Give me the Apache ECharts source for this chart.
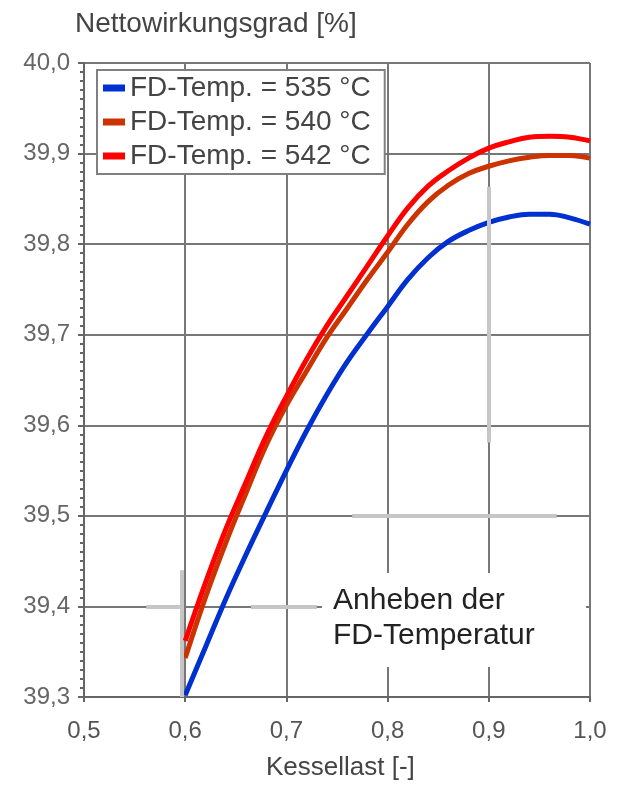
<!DOCTYPE html>
<html>
<head>
<meta charset="utf-8">
<script src="https://cdn.jsdelivr.net/npm/echarts@6/dist/echarts.min.js"></script>
<style>
html,body{margin:0;padding:0;background:#fff;}
#c{width:618px;height:787px;}
</style>
</head>
<body>
<div id="c"></div>
<script>
// Kessellast [-]
var loadX = [0.60,0.62,0.64,0.66,0.68,0.70,0.72,0.74,0.76,0.78,0.80,0.82,0.84,0.86,0.88,0.90,0.92,0.94,0.96,0.98,1.00];
// Nettowirkungsgrad [%]
var eta535 = [39.302,39.355,39.408,39.457,39.504,39.550,39.594,39.634,39.670,39.701,39.731,39.761,39.785,39.803,39.815,39.824,39.830,39.833,39.833,39.829,39.822];
var eta540 = [39.343,39.410,39.470,39.525,39.578,39.622,39.660,39.697,39.729,39.761,39.791,39.822,39.847,39.865,39.878,39.886,39.892,39.896,39.898,39.898,39.895];
var eta542 = [39.362,39.426,39.485,39.537,39.588,39.632,39.673,39.710,39.743,39.776,39.809,39.840,39.864,39.881,39.895,39.906,39.913,39.918,39.919,39.918,39.914];
var seriesNames = ['FD-Temp. = 535 °C','FD-Temp. = 540 °C','FD-Temp. = 542 °C'];
var seriesColors = ['#0030d0','#cc3300','#ff0000'];
var xTicks = [0.5,0.6,0.7,0.8,0.9,1.0];
var yTicks = [39.3,39.4,39.5,39.6,39.7,39.8,39.9,40.0];
// light grey annotation guide segments (data coordinates)
var guideSegments = [
  [[0.5615,39.4],[0.598,39.4]],
  [[0.665,39.4],[0.730,39.4]],
  [[0.765,39.5],[0.967,39.5]],
  [[0.9,39.8635],[0.9,39.581]],
  [[0.597,39.44],[0.597,39.3]]
];

function zip(xs, ys){ return xs.map(function(x,i){ return [x, ys[i]]; }); }
function comma(v){ return v.toFixed(1).replace('.', ','); }

var chart = echarts.init(document.getElementById('c'), null, {renderer:'canvas'});
var FONT = 'Liberation Sans';
var datas = [eta535, eta540, eta542];

var series = datas.map(function(d,i){
  return {
    name: seriesNames[i], type:'line', data: zip(loadX, d),
    smooth: 0.4, showSymbol:false, symbol:'none',
    lineStyle:{color:seriesColors[i], width:5}, itemStyle:{color:seriesColors[i]},
    z: 3 + i, animation:false
  };
});
series.unshift({
  name:'guides', type:'line', data:[], z:2, silent:true, animation:false,
  markLine:{
    silent:true, symbol:['none','none'], animation:false,
    label:{show:false},
    lineStyle:{color:'#c6c6c6', width:4, type:'solid'},
    data: guideSegments.map(function(s){ return [{coord:s[0]},{coord:s[1]}]; })
  }
});

chart.setOption({
  backgroundColor:'#ffffff',
  animation:false,
  textStyle:{fontFamily:FONT},
  grid:{left:84, right:28, top:63, bottom:90, containLabel:false},
  legend:{
    data: seriesNames, orient:'vertical', left:97, top:70,
    icon:'rect', itemWidth:22, itemHeight:7, itemGap:6,
    padding:[4,14,4,6],
    backgroundColor:'#ffffff', borderColor:'#808080', borderWidth:2, borderRadius:0,
    textStyle:{fontFamily:FONT, fontSize:28, color:'#444', lineHeight:28},
    selectedMode:false
  },
  xAxis:{
    type:'value', min:xTicks[0], max:xTicks[xTicks.length-1], interval:0.1,
    axisLine:{show:true, onZero:false, lineStyle:{color:'#666', width:2}},
    axisTick:{show:true, length:5, lineStyle:{color:'#666', width:2}},
    axisLabel:{fontFamily:FONT, fontSize:24, color:'#555', margin:22, formatter:function(v){return comma(v);}},
    splitLine:{show:true, lineStyle:{color:'#777', width:2}}
  },
  yAxis:{
    type:'value', min:yTicks[0], max:yTicks[yTicks.length-1], interval:0.1,
    axisLine:{show:true, onZero:false, lineStyle:{color:'#666', width:2}},
    axisTick:{show:true, length:6, lineStyle:{color:'#666', width:2}},
    minorTick:{show:true, splitNumber:10, length:4, lineStyle:{color:'#666', width:2}},
    axisLabel:{fontFamily:FONT, fontSize:24, color:'#666', margin:14, formatter:function(v){return comma(v);}},
    splitLine:{show:true, lineStyle:{color:'#777', width:2}}
  },
  graphic:[
    {type:'rect', z:1, shape:{x:322, y:573, width:264, height:94}, style:{fill:'#ffffff'}, silent:true},
    {type:'text', z:10, left:75, top:10, style:{text:'Nettowirkungsgrad [%]', font:'28px "Liberation Sans"', fill:'#444'}},
    {type:'text', z:10, left:266, top:755, style:{text:'Kessellast [-]', font:'26px "Liberation Sans"', fill:'#444'}},
    {type:'text', z:10, left:333, top:586, style:{text:'Anheben der', font:'30px "Liberation Sans"', fill:'#222'}},
    {type:'text', z:10, left:333, top:621, style:{text:'FD-Temperatur', font:'30px "Liberation Sans"', fill:'#222'}}
  ],
  series: series
});
</script>
</body>
</html>
